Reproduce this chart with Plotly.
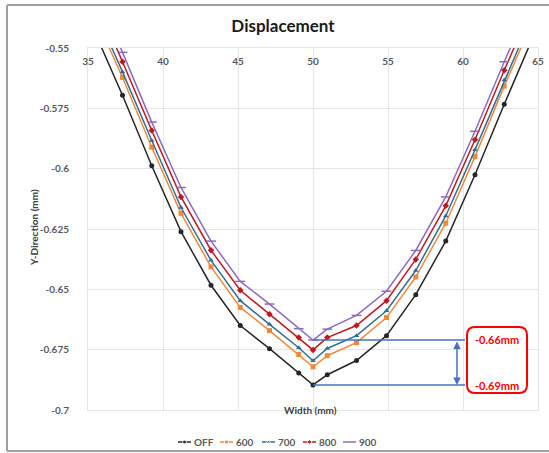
import plotly.graph_objects as go

# ---- data ----
width_mm = [35.35, 37.3, 39.25, 41.2, 43.2, 45.15, 47.1, 49.05, 50.0, 50.95,
            52.9, 54.9, 56.85, 58.85, 60.8, 62.75, 64.7]

y_off = [-0.542, -0.5696, -0.5988, -0.6261, -0.6483, -0.6650, -0.6746, -0.6847, -0.6896, -0.6854,
         -0.6795, -0.6692, -0.6522, -0.6300, -0.6025, -0.5733, -0.545]
y_600 = [-0.535, -0.5622, -0.5911, -0.6185, -0.6407, -0.6575, -0.6671, -0.6770, -0.6821, -0.6775,
         -0.6721, -0.6617, -0.6449, -0.6226, -0.5950, -0.5658, -0.538]
y_700 = [-0.5325, -0.5599, -0.5883, -0.6161, -0.6380, -0.6547, -0.6645, -0.6742, -0.6796, -0.6745,
         -0.6692, -0.6589, -0.6422, -0.6196, -0.5922, -0.5633, -0.5355]
y_800 = [-0.528, -0.5557, -0.5842, -0.6117, -0.6338, -0.6504, -0.6603, -0.6700, -0.6751, -0.6700,
         -0.6650, -0.6547, -0.6376, -0.6154, -0.5880, -0.5592, -0.5315]
y_900 = [-0.5245, -0.5518, -0.5807, -0.6078, -0.6300, -0.6467, -0.6561, -0.6663, -0.6710, -0.6665,
         -0.6608, -0.6508, -0.6339, -0.6117, -0.5845, -0.5557, -0.528]

series_names = ["OFF", "600", "700", "800", "900"]
series_values = [y_off, y_600, y_700, y_800, y_900]

y_tick_values = [-0.7, -0.675, -0.65, -0.625, -0.6, -0.575, -0.55]
y_tick_labels = ["-0.7", "-0.675", "-0.65", "-0.625", "-0.6", "-0.575", "-0.55"]
x_tick_values = [35, 40, 45, 50, 55, 60, 65]
x_tick_labels = ["35", "40", "45", "50", "55", "60", "65"]

callout_labels = ["-0.66mm", "-0.69mm"]

# ---- styling ----
colors = ["#262626", "#F0883A", "#2F6E96", "#C0181F", "#8B6BBE"]
symbols = ["circle", "square", "triangle-up", "diamond", "line-ew"]
FONT = "Lato"
GRAY = "#595959"

W, H = 549, 453
PL, PR, PT, PB = 88, 538, 48, 410          # plot area in page pixels
PW, PH = PR - PL, PB - PT
X0, X1 = 35, 65
Y0, Y1 = -0.7, -0.55


def px_to_x(px):
    return X0 + (px - PL) / PW * (X1 - X0)


def py_to_y(py):
    return Y1 - (py - PT) / PH * (Y1 - Y0)


def paper_x(px):
    return px / W


def paper_y(py):
    return 1 - py / H


fig = go.Figure()
for name, vals, c, s in zip(series_names, series_values, colors, symbols):
    fig.add_trace(go.Scatter(
        x=width_mm, y=vals, name=name, mode="lines+markers",
        line=dict(color=c, width=1.5),
        marker=dict(symbol=s, size=5 if s != "line-ew" else 7, color=c,
                    line=dict(color=c, width=1.5 if s == "line-ew" else 0)),
        cliponaxis=True, showlegend=False,
    ))

# ---- compact legend drawn on a helper axis (pixel-unit axis) ----
LEG_X0, LEG_X1, LEG_Y0, LEG_Y1 = 170, 400, 432, 452
leg_starts = [178, 220, 262, 303, 343]
leg_len = 13
leg_y = 442
for name, c, s, x0 in zip(series_names, colors, symbols, leg_starts):
    fig.add_trace(go.Scatter(
        x=[x0, x0 + leg_len / 2, x0 + leg_len], y=[leg_y] * 3, mode="lines+markers",
        line=dict(color=c, width=1.5),
        marker=dict(symbol=s, size=[0, 4 if s != "line-ew" else 0, 0], color=c),
        xaxis="x2", yaxis="y2", showlegend=False, hoverinfo="skip",
    ))
    fig.add_annotation(text=f"<b>{name}</b>", xref="x2", yref="y2", x=x0 + leg_len + 1,
                       y=leg_y, xanchor="left", yanchor="middle", showarrow=False,
                       font=dict(family=FONT, size=10, color=GRAY))

grid = "#E4E4E4"
fig.update_layout(
    width=W, height=H,
    margin=dict(l=0, r=0, t=0, b=0, autoexpand=False),
    paper_bgcolor="white", plot_bgcolor="white",
    font=dict(family=FONT, color=GRAY, size=10),
    title=dict(text="<b>Displacement</b>", x=283 / W, xref="container", xanchor="center",
               y=1 - 26 / H, yref="container", yanchor="middle",
               font=dict(family=FONT, size=17, color="#1a1a1a")),
    showlegend=False,
    xaxis=dict(domain=[PL / W, PR / W], range=[X0, X1], side="top", tickmode="array",
               tickvals=x_tick_values, ticktext=x_tick_labels,
               ticklabelstandoff=-22, automargin=False,
               showgrid=True, gridcolor=grid, gridwidth=1,
               zeroline=False, showline=True, linecolor=grid, mirror=True,
               tickfont=dict(family=FONT, size=10, color=GRAY, weight="bold"),
               ticks=""),
    yaxis=dict(domain=[1 - PB / H, 1 - PT / H], range=[Y0, Y1], tickmode="array",
               tickvals=y_tick_values, ticktext=y_tick_labels, automargin=False,
               showgrid=True, gridcolor=grid, gridwidth=1, zeroline=False,
               showline=True, linecolor=grid, mirror=True, ticks="",
               ticklabelstandoff=16,
               tickfont=dict(family=FONT, size=10, color=GRAY, weight="bold")),
    xaxis2=dict(domain=[LEG_X0 / W, LEG_X1 / W], range=[LEG_X0, LEG_X1], anchor="y2",
                visible=False, fixedrange=True),
    yaxis2=dict(domain=[1 - LEG_Y1 / H, 1 - LEG_Y0 / H], range=[LEG_Y1, LEG_Y0], anchor="x2",
                visible=False, fixedrange=True),
)

# axis titles
fig.add_annotation(text="<b>Y-Direction (mm)</b>", xref="paper", yref="paper",
                   x=paper_x(26), y=paper_y(228), textangle=-90, showarrow=False,
                   font=dict(family=FONT, size=10, color="#404040"))
fig.add_annotation(text="<b>Width (mm)</b>", xref="paper", yref="paper",
                   x=paper_x(310), y=paper_y(418), showarrow=False,
                   font=dict(family=FONT, size=10, color="#404040"))

# outer chart border (left, top, bottom; the right side is cut off in the reference)
border = dict(color="#A0A0A0", width=2)
bl, bt, bb = 7, 5, 451
for (xa, ya, xb, yb) in [(bl, bt, W, bt), (bl, bb, W, bb), (bl, bt, bl, bb)]:
    fig.add_shape(type="line", xref="paper", yref="paper",
                  x0=paper_x(xa), y0=paper_y(ya), x1=paper_x(xb), y1=paper_y(yb),
                  line=border, layer="below")

# callout: min of 900 and min of OFF
top_v = min(y_900)
bot_v = min(y_off)
x_min = width_mm[y_off.index(bot_v)]
blue = "#4472C4"
x_line_end = px_to_x(465)
for yv in (top_v, bot_v):
    fig.add_shape(type="line", xref="x", yref="y", x0=x_min, x1=x_line_end, y0=yv, y1=yv,
                  line=dict(color=blue, width=1.5))
x_arrow = px_to_x(457)
fig.add_annotation(x=x_arrow, y=bot_v, ax=x_arrow, ay=top_v, xref="x", yref="y",
                   axref="x", ayref="y", text="", showarrow=True, arrowhead=2,
                   arrowside="end+start", arrowsize=1, arrowwidth=1.5, arrowcolor=blue)

# red rounded box
bx0, bx1, by0, by1, r = 467, 527, 327, 393, 8
pts = [
    f"M {px_to_x(bx0 + r)},{py_to_y(by0)}",
    f"L {px_to_x(bx1 - r)},{py_to_y(by0)}",
    f"Q {px_to_x(bx1)},{py_to_y(by0)} {px_to_x(bx1)},{py_to_y(by0 + r)}",
    f"L {px_to_x(bx1)},{py_to_y(by1 - r)}",
    f"Q {px_to_x(bx1)},{py_to_y(by1)} {px_to_x(bx1 - r)},{py_to_y(by1)}",
    f"L {px_to_x(bx0 + r)},{py_to_y(by1)}",
    f"Q {px_to_x(bx0)},{py_to_y(by1)} {px_to_x(bx0)},{py_to_y(by1 - r)}",
    f"L {px_to_x(bx0)},{py_to_y(by0 + r)}",
    f"Q {px_to_x(bx0)},{py_to_y(by0)} {px_to_x(bx0 + r)},{py_to_y(by0)}",
    "Z",
]
fig.add_shape(type="path", xref="x", yref="y", path=" ".join(pts),
              line=dict(color="#FF0000", width=2), fillcolor="white")
for lbl, yv in zip(callout_labels, (py_to_y(339), py_to_y(385))):
    fig.add_annotation(text=f"<b>{lbl}</b>", x=px_to_x(497), y=yv, xref="x", yref="y",
                       showarrow=False, font=dict(family=FONT, size=11, color="#FF0000"))

# remove the default 8px page margin so the figure sits at the window's top-left corner
fig.write_html("out.html", config={"displayModeBar": False},
               post_script="document.body.style.margin='0px';"
                           "document.body.style.overflow='hidden';")
